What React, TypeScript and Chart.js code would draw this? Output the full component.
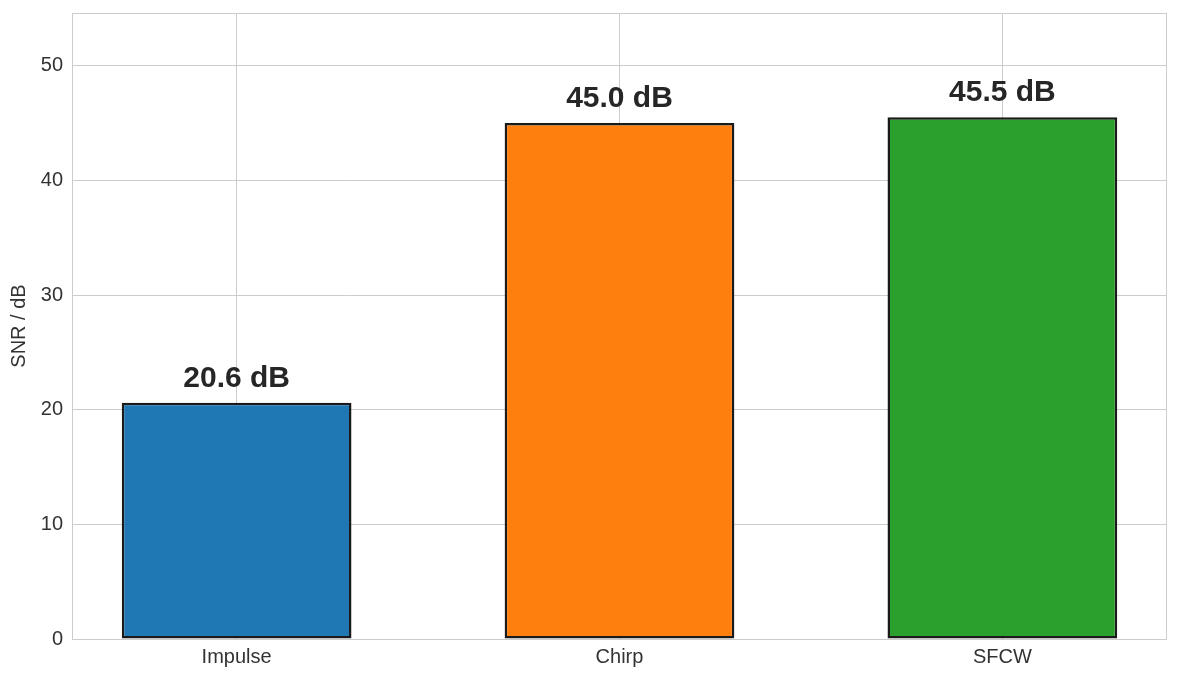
import React, { useEffect, useRef } from "react";
import { Chart, registerables } from "chart.js";

Chart.register(...registerables);

const categories = ["Impulse", "Chirp", "SFCW"];
const snrValues = [20.6, 45.0, 45.5];
const barColors = ["#1f77b4", "#ff7f0e", "#2ca02c"];
const yTickValues = [0, 10, 20, 30, 40, 50];
const yMax = 54.6;

const FONT = "'Liberation Sans', Arial, Helvetica, sans-serif";

export default function App() {
  const ref = useRef<HTMLCanvasElement | null>(null);

  useEffect(() => {
    if (!ref.current) return;
    const framePlugin = {
      id: "frame",
      beforeDatasetsDraw(chart: any) {
        const { ctx, chartArea: a } = chart;
        ctx.save();
        ctx.strokeStyle = "#cccccc";
        ctx.lineWidth = 1;
        ctx.strokeRect(Math.round(a.left) + 0.5, Math.round(a.top) + 0.5, Math.round(a.right - a.left) - 1, Math.round(a.bottom - a.top));
        ctx.restore();
      },
    };
    const labelPlugin = {
      id: "valueLabels",
      afterDatasetsDraw(chart: any) {
        const { ctx } = chart;
        const meta = chart.getDatasetMeta(0);
        ctx.save();
        ctx.font = `bold 30px ${FONT}`;
        ctx.fillStyle = "#262626";
        ctx.textAlign = "center";
        ctx.textBaseline = "alphabetic";
        meta.data.forEach((el: any, i: number) => {
          ctx.fillText(`${snrValues[i].toFixed(1)} dB`, el.x, el.y - 16);
        });
        ctx.restore();
      },
    };
    const chart = new Chart(ref.current, {
      type: "bar",
      data: {
        datasets: [
          {
            data: snrValues.map((v, i) => ({ x: i, y: v })),
            backgroundColor: barColors,
            borderColor: "#1a1a1a",
            borderWidth: 2.5,
            borderSkipped: false,
            barPercentage: 0.6,
            categoryPercentage: 1,
          },
        ],
      },
      options: {
        animation: false,
        responsive: false,
        maintainAspectRatio: false,
        layout: { padding: { top: 13, right: 12, left: 0, bottom: 0 } },
        plugins: { legend: { display: false }, tooltip: { enabled: false } },
        scales: {
          x: {
            type: "linear",
            min: -0.43,
            max: 2.43,
            offset: false,
            afterBuildTicks(scale: any) {
              scale.ticks = categories.map((_, i) => ({ value: i }));
            },
            afterFit(scale: any) {
              scale.height = 38;
              scale.paddingLeft = 0;
              scale.paddingRight = 0;
            },
            ticks: {
              callback: (v: any) => categories[v as number] ?? "",
              color: "#333333",
              font: { family: FONT, size: 20 },
              padding: 6,
              maxRotation: 0,
            },
            grid: { color: "#cccccc", lineWidth: 1, drawTicks: false, offset: false },
            border: { display: false },
          },
          y: {
            type: "linear",
            min: 0,
            max: yMax,
            afterBuildTicks(scale: any) {
              scale.ticks = yTickValues.map((v) => ({ value: v }));
            },
            afterFit(scale: any) {
              scale.width = 72;
              scale.paddingTop = 0;
              scale.paddingBottom = 0;
            },
            ticks: {
              color: "#333333",
              font: { family: FONT, size: 20 },
              padding: 9,
            },
            grid: { color: "#cccccc", lineWidth: 1, drawTicks: false },
            border: { display: false },
            title: {
              display: true,
              text: "SNR / dB",
              color: "#333333",
              font: { family: FONT, size: 20 },
              padding: { top: 7, bottom: 0 },
            },
          },
        },
      },
      plugins: [framePlugin, labelPlugin],
    });
    return () => chart.destroy();
  }, []);

  return (
    <div style={{ position: "fixed", left: 0, top: 0, width: 1179, height: 677, background: "#ffffff" }}>
      <canvas ref={ref} width={1179} height={677} style={{ width: 1179, height: 677, display: "block" }} />
    </div>
  );
}
